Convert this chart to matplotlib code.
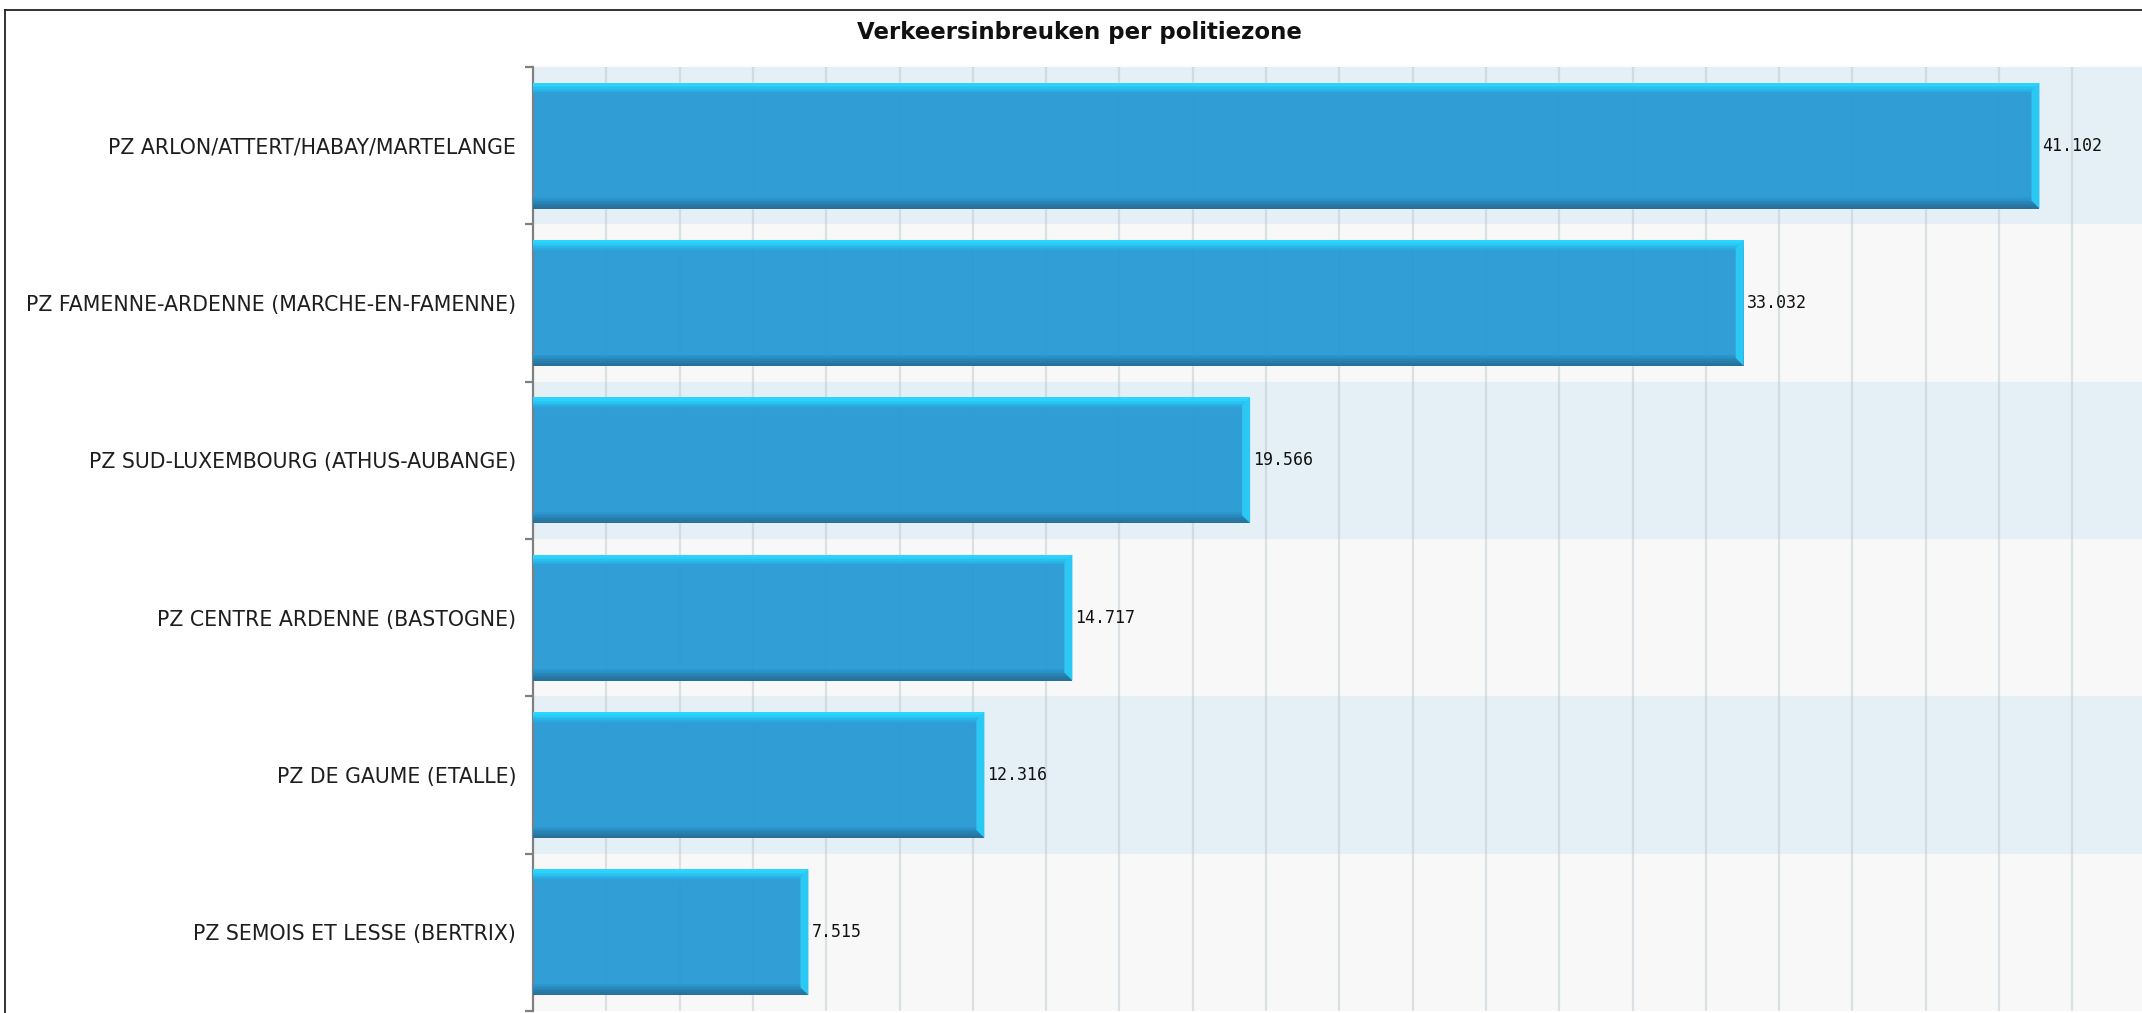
import numpy as np
import matplotlib
matplotlib.use("Agg")
import matplotlib.pyplot as plt
from matplotlib.patches import Polygon
from matplotlib.lines import Line2D

zones = [
    "PZ ARLON/ATTERT/HABAY/MARTELANGE",
    "PZ FAMENNE-ARDENNE (MARCHE-EN-FAMENNE)",
    "PZ SUD-LUXEMBOURG (ATHUS-AUBANGE)",
    "PZ CENTRE ARDENNE (BASTOGNE)",
    "PZ DE GAUME (ETALLE)",
    "PZ SEMOIS ET LESSE (BERTRIX)",
]
values = [41102, 33032, 19566, 14717, 12316, 7515]
title = "Verkeersinbreuken per politiezone"

W, H, DPI = 2142, 1013, 100
fig = plt.figure(figsize=(W / DPI, H / DPI), dpi=DPI)
fig.patch.set_facecolor("white")

# plot area in pixels: left 533, top 67, bottom 1011, runs off the right edge
ax = fig.add_axes([533 / W, 1 - 1011 / H, 1 - 533 / W, (1011 - 67) / H])
ax.set_facecolor("#f8f8f8")

n = len(zones)
y = np.arange(n)
ax.set_ylim(n - 0.5, -0.5)
ax.set_xlim(0, 43900)

# alternating row bands
for i in range(n):
    ax.axhspan(i - 0.5, i + 0.5, color="#e4eff6" if i % 2 == 0 else "#f8f8f8", zorder=0, lw=0)

# vertical grid every 2000
for gx in range(2000, 44000, 2000):
    ax.axvline(gx, color="#b8c4cc", alpha=0.45, lw=1.6, zorder=1)

bar_h = 0.8
px = 1.0 / 157.3  # one pixel in y data units
xpx = 43900 / (W - 533)  # one pixel in x data units
ax.barh(y, values, height=bar_h, color="#2699d4", alpha=0.95, zorder=2, lw=0)

# top highlight (light cyan fading into the bar colour)
top_cols = ["#2ad6ff", "#2ad2fc", "#2acaf6", "#2ac0ef", "#2ab5e7", "#2aaadf", "#2aa2d9"]
for k, c in enumerate(top_cols):
    ax.barh(y - bar_h / 2 + (k * 1.6 + 0.8) * px, values, height=1.7 * px, color=c, zorder=3, lw=0)
# bottom shadow
bot_cols = ["#2a97ce", "#2a90c5", "#2989bc", "#2882b2", "#277caa", "#2775a1", "#26709a"]
for k, c in enumerate(bot_cols):
    ax.barh(y + bar_h / 2 - ((6 - k) * 1.6 + 0.8) * px, values, height=1.7 * px, color=c, zorder=3, lw=0)

# right bevel
bev = 8 * xpx
for yi, v in zip(y, values):
    top, bot = yi - bar_h / 2, yi + bar_h / 2
    ax.add_patch(Polygon([(v - bev, top + 8 * px), (v, top), (v, bot), (v - bev, bot - 8 * px)],
                         closed=True, color="#2cc8f4", lw=0, zorder=4))
    ax.text(v + 3 * xpx, yi, f"{v:,}".replace(",", "."), va="center", ha="left",
            fontsize=12, family="DejaVu Sans Mono", color="#111111", zorder=5)

# axes styling
for s in ["top", "right", "bottom"]:
    ax.spines[s].set_visible(False)
ax.spines["left"].set_color("#808080")
ax.spines["left"].set_linewidth(1.6)
ax.set_xticks([])
ax.set_yticks(y)
ax.set_yticklabels(zones, fontsize=14.8, color="#1e1e1e")
ax.tick_params(axis="y", which="major", length=0, pad=12)
ax.set_yticks(np.arange(-0.5, n, 1.0), minor=True)
ax.tick_params(axis="y", which="minor", length=6, width=1.6, color="#808080", direction="out")

fig.text(1079 / W, 1 - 33 / H, title, ha="center", va="center", fontsize=16.5, fontweight="bold",
         color="#111111")

# outer frame (left and top edges only, the rest is cropped)
fig.add_artist(Line2D([5 / W, 5 / W], [0, 1 - 10 / H], transform=fig.transFigure, color="#222222", lw=1.3))
fig.add_artist(Line2D([5 / W, 1], [1 - 10 / H, 1 - 10 / H], transform=fig.transFigure, color="#222222", lw=1.3))

fig.savefig("out.png", dpi=DPI)
